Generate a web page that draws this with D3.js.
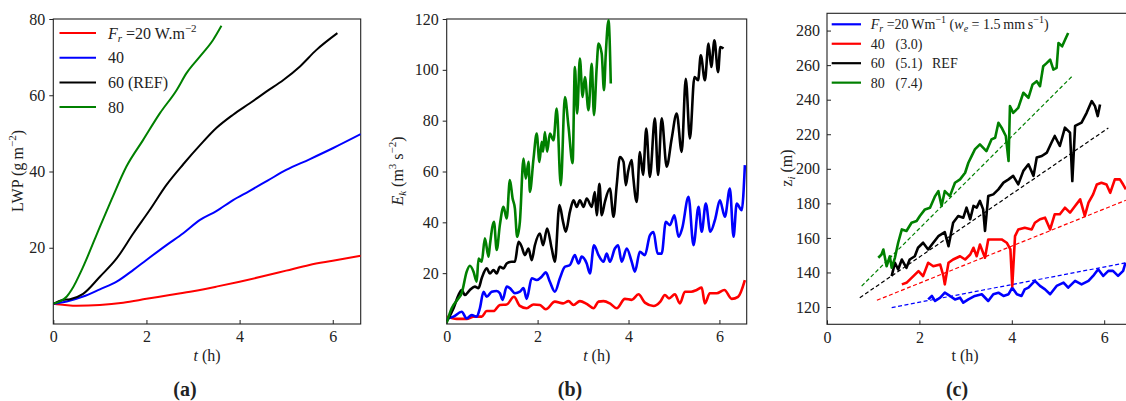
<!DOCTYPE html>
<html>
<head>
<meta charset="utf-8">
<script src="https://cdn.jsdelivr.net/npm/d3@7"></script>
<style>
  body { margin: 0; background: #fff; }
  svg text { font-family: "Liberation Serif", "DejaVu Serif", serif; fill: #222; }
</style>
</head>
<body>
<div id="chart"></div>
<script>
// ---- data ----
// (a) LWP (g m-2) vs t (h)
var lwp20 = [[0,5.3],[0.25,5.0],[0.5,4.8],[1,5.0],[1.5,5.6],[2,6.6],[2.5,7.6],[3,8.6],[3.5,9.8],[4,11.1],[4.5,12.5],[5,14.0],[5.5,15.5],[6,16.6],[6.6,17.9]];
var lwp40 = [[0,5.3],[0.29,5.9],[0.64,7.2],[1.0,9.1],[1.36,11.1],[1.72,14.2],[2.0,16.8],[2.43,20.7],[2.79,23.8],[3.15,27.3],[3.5,29.6],[3.86,32.5],[4.2,34.8],[4.6,37.6],[5,40.4],[5.5,43.2],[6,46.1],[6.6,49.8]];
var lwp60 = [[0,5.3],[0.2,6.3],[0.36,6.5],[0.64,7.9],[1.0,12.4],[1.36,17.2],[1.72,23.8],[2.07,29.9],[2.43,36.5],[2.79,41.9],[3.15,46.9],[3.5,51.4],[3.86,54.9],[4.22,57.9],[4.58,61],[4.94,64],[5.29,67.5],[5.65,71.9],[6.1,76.3]];
var lwp80 = [[0,5.3],[0.29,7.2],[0.39,8.9],[0.64,15],[1.0,25.5],[1.25,32.6],[1.57,41.3],[1.93,48.3],[2.29,55.3],[2.65,61.4],[2.86,65.8],[3.15,70.2],[3.43,74.5],[3.61,78.2]];

// (b) Ek (m3 s-2) vs t (h)
var ek20 = [[0,2.9],[0.22,2.0],[0.44,2.0],[0.59,2.9],[0.77,2.9],[0.88,5.1],[1.03,5.1],[1.17,7.5],[1.32,7.7],[1.48,10.7],[1.61,7.1],[1.76,6.2],[1.91,7.7],[2.05,7.5],[2.18,5.8],[2.38,8.8],[2.56,8.1],[2.68,9.0],[2.79,7.5],[2.93,9.0],[3.08,7.9],[3.23,6.2],[3.34,8.8],[3.45,9.0],[3.59,8.1],[3.74,6.2],[3.92,9.9],[4.07,9.5],[4.22,11.7],[4.36,8.4],[4.55,7.1],[4.7,8.8],[4.8,11.4],[4.89,10.1],[5.02,11.7],[5.13,8.1],[5.24,12.7],[5.38,12.7],[5.5,13.4],[5.61,14.3],[5.68,8.1],[5.79,12.1],[5.94,12.1],[6.11,13.4],[6.27,9.9],[6.41,10.7],[6.56,17.3]];
var ek40 = [[0,2],[0.15,2.9],[0.33,4.8],[0.44,2.2],[0.55,3.5],[0.66,2.9],[0.73,6.2],[0.81,12.7],[0.88,10.7],[0.99,12.7],[1.1,13.0],[1.17,12.1],[1.23,9.5],[1.32,14.7],[1.39,14.1],[1.5,12.1],[1.61,12.7],[1.69,14.1],[1.76,9.9],[1.87,18.0],[1.98,17.3],[2.09,18.6],[2.18,20.3],[2.27,16.6],[2.38,12.7],[2.49,18.0],[2.6,22.5],[2.71,23.2],[2.82,27.1],[2.9,23.8],[2.97,26.5],[3.08,23.8],[3.15,19.9],[3.24,31.0],[3.34,27.1],[3.45,24.5],[3.52,27.7],[3.59,24.5],[3.7,29.7],[3.77,31.0],[3.85,24.5],[3.96,29.7],[4.07,24.5],[4.14,20.6],[4.25,28.4],[4.36,27.1],[4.47,34.9],[4.55,36.2],[4.64,27.7],[4.73,27.7],[4.82,40.2],[4.91,38.9],[5.01,42.8],[5.1,34.3],[5.18,37.6],[5.32,50.0],[5.43,31.0],[5.54,46.1],[5.61,36.3],[5.7,47.4],[5.8,36.3],[5.91,41.5],[6.01,48.7],[6.12,42.2],[6.23,53.3],[6.31,34.3],[6.38,47.4],[6.49,44.8],[6.56,62.5]];
var ek60 = [[0,1],[0.15,6.2],[0.26,11.4],[0.33,13.4],[0.4,11.4],[0.51,13.4],[0.62,14.7],[0.7,14.1],[0.77,18.0],[0.88,21.9],[0.95,19.9],[1.03,21.2],[1.1,19.9],[1.17,22.5],[1.25,21.9],[1.32,23.8],[1.43,24.5],[1.5,24.5],[1.58,32.3],[1.65,30.4],[1.72,27.1],[1.8,29.7],[1.87,25.1],[1.94,31.0],[2.05,35.6],[2.12,31.0],[2.21,37.6],[2.31,29.7],[2.38,24.5],[2.48,46.8],[2.56,40.2],[2.62,36.3],[2.71,44.1],[2.79,48.7],[2.86,46.1],[2.93,48.7],[3.01,46.1],[3.08,49.4],[3.19,46.1],[3.26,51.9],[3.3,42.8],[3.36,55.2],[3.41,42.8],[3.48,48.0],[3.59,53.3],[3.67,42.2],[3.74,54.6],[3.81,65.7],[3.89,63.8],[3.94,54.6],[3.99,59.9],[4.07,64.5],[4.1,58.6],[4.18,48.0],[4.25,67.7],[4.32,58.6],[4.39,76.9],[4.47,57.9],[4.58,80.9],[4.65,58.6],[4.73,80.9],[4.84,61.9],[4.95,73.0],[5.06,82.8],[5.17,67.7],[5.26,96.5],[5.35,73.0],[5.45,97.2],[5.53,95.9],[5.59,105.7],[5.68,95.9],[5.76,110.3],[5.82,101.1],[5.89,111.6],[5.97,99.1],[6.02,109.0],[6.09,108.4]];
var ek80 = [[0,0.5],[0.11,6.2],[0.26,10.1],[0.33,12.1],[0.44,20.6],[0.51,22.9],[0.59,20.6],[0.66,16.6],[0.7,25.8],[0.77,24.5],[0.84,33.7],[0.92,26.5],[0.95,31.0],[1.04,40.2],[1.1,29.1],[1.17,39.0],[1.25,46.1],[1.32,41.5],[1.39,56.6],[1.45,49.4],[1.5,45.5],[1.55,34.3],[1.61,40.2],[1.69,65.1],[1.74,57.2],[1.8,63.8],[1.83,52.0],[1.91,65.1],[1.98,74.9],[2.04,63.8],[2.09,71.7],[2.12,67.8],[2.16,75.5],[2.21,67.8],[2.27,74.9],[2.35,72.3],[2.42,84.8],[2.51,54.6],[2.6,89.3],[2.68,77.6],[2.77,63.3],[2.82,101.1],[2.87,82.8],[2.93,104.4],[2.99,89.3],[3.04,97.2],[3.12,84.1],[3.19,102.4],[3.24,82.2],[3.3,101.1],[3.34,110.3],[3.41,106.4],[3.46,92.0],[3.5,106.4],[3.56,119.5],[3.61,94.6]];

// (c) zi (m) vs t (h)
var zi20 = [[2.19,124.4],[2.27,126.4],[2.34,123.5],[2.45,125.4],[2.55,128.3],[2.66,126.4],[2.77,124.4],[2.88,125.4],[2.95,122.5],[3.06,124.4],[3.2,126.4],[3.35,127.4],[3.49,123.5],[3.6,127.4],[3.71,128.3],[3.82,126.4],[3.93,127.4],[4.01,131.2],[4.11,127.4],[4.21,126.4],[4.28,130.2],[4.36,131.2],[4.5,135.1],[4.61,132.2],[4.72,130.2],[4.83,127.4],[4.97,132.2],[5.12,134.1],[5.22,131.2],[5.37,135.1],[5.51,133.1],[5.66,135.1],[5.76,138.0],[5.87,141.9],[5.98,138.0],[6.09,140.9],[6.19,140.9],[6.3,138.0],[6.41,140.9],[6.46,145.6]];
var zi40 = [[1.62,133.1],[1.72,134.0],[1.87,137.9],[1.98,140.8],[2.08,137.9],[2.19,145.6],[2.3,143.6],[2.45,144.6],[2.52,137.9],[2.55,133.1],[2.63,145.6],[2.73,147.5],[2.88,149.4],[2.99,147.5],[3.1,150.4],[3.17,154.3],[3.24,149.4],[3.31,156.2],[3.42,148.5],[3.49,159.1],[3.64,159.1],[3.78,159.1],[3.89,157.2],[3.97,153.3],[4.01,132.1],[4.07,161.0],[4.14,164.9],[4.28,165.9],[4.43,164.9],[4.5,168.8],[4.61,170.8],[4.72,171.7],[4.83,164.9],[4.93,173.7],[5.04,173.7],[5.15,177.5],[5.26,174.6],[5.37,178.5],[5.48,182.3],[5.58,172.7],[5.66,180.4],[5.76,185.2],[5.84,190.9],[5.94,191.9],[6.05,190.9],[6.13,186.1],[6.23,193.9],[6.34,193.9],[6.41,190.9],[6.47,188.1]];
var zi60 = [[1.4,137.9],[1.47,145.6],[1.54,141.7],[1.62,147.5],[1.72,142.7],[1.79,147.5],[1.9,149.4],[1.97,154.3],[2.08,157.2],[2.19,153.3],[2.3,157.2],[2.41,161.0],[2.55,163.3],[2.63,155.2],[2.73,168.8],[2.84,172.7],[2.95,171.7],[3.02,177.5],[3.1,170.8],[3.17,178.5],[3.24,177.5],[3.31,181.4],[3.38,176.5],[3.42,164.0],[3.49,184.2],[3.6,185.2],[3.71,188.1],[3.82,192.0],[3.93,193.9],[4.03,195.9],[4.14,191.0],[4.25,198.8],[4.36,202.6],[4.47,195.9],[4.54,206.5],[4.65,207.4],[4.76,209.4],[4.86,215.2],[4.93,219.0],[5.04,213.2],[5.15,223.8],[5.26,220.9],[5.31,192.9],[5.37,224.8],[5.51,226.7],[5.62,232.4],[5.73,239.2],[5.8,236.3],[5.86,230.5],[5.91,237.2]];
var zi80 = [[1.11,148.5],[1.18,150.4],[1.22,153.3],[1.29,143.6],[1.36,149.4],[1.4,142.7],[1.47,148.5],[1.54,157.2],[1.62,164.9],[1.72,164.0],[1.83,168.8],[1.94,169.8],[2.01,172.7],[2.12,176.5],[2.23,177.5],[2.34,184.2],[2.41,187.1],[2.48,178.5],[2.55,187.1],[2.66,184.2],[2.77,191.9],[2.88,193.9],[2.99,197.7],[3.06,203.5],[3.13,207.3],[3.2,211.2],[3.31,214.1],[3.45,210.2],[3.56,217.0],[3.64,218.0],[3.71,226.6],[3.78,223.8],[3.87,219.0],[3.93,204.5],[3.96,236.3],[4.03,232.4],[4.14,235.3],[4.25,244.0],[4.36,241.1],[4.45,248.8],[4.54,250.7],[4.61,247.8],[4.68,259.4],[4.76,261.3],[4.83,263.2],[4.9,257.4],[4.97,258.4],[5.01,272.8],[5.09,270.9],[5.17,275.7],[5.22,278.6]];
// dashed fits, [start, end]
var fit20 = [[1.4,119.7],[6.47,145.6]];
var fit40 = [[1.08,123.9],[6.47,181.8]];
var fit60 = [[0.71,125.4],[6.09,223.6]];
var fit80 = [[0.75,132.1],[5.3,253.4]];

var xTicks = [0, 2, 4, 6];
var lwpTicks = [20, 40, 60, 80];
var ekTicks = [20, 40, 60, 80, 100, 120];
var ziTicks = [120, 140, 160, 180, 200, 220, 240, 260, 280];

var RED = "#ff0000", BLUE = "#0000ff", BLACK = "#000000", GREEN = "#008000";

var svg = d3.select("#chart").append("svg")
    .attr("width", 1126)
    .attr("height", 401);

// draws one panel frame + axes, returns the scales
function makePanel(p) {
    var x = d3.scaleLinear().domain(p.xDomain).range([p.left, p.right]);
    var y = d3.scaleLinear().domain(p.yDomain).range([p.bottom, p.top]);

    var xAxis = d3.axisBottom(x).tickValues(xTicks).tickFormat(d3.format("d"))
        .tickSize(-4).tickSizeOuter(0).tickPadding(7);
    var yAxis = d3.axisLeft(y).tickValues(p.yTicks).tickFormat(d3.format("d"))
        .tickSize(p.yIn ? -4 : 4).tickSizeOuter(0).tickPadding(p.yIn ? 7 : 4);

    var gx = svg.append("g").attr("transform", "translate(0," + p.bottom + ")").call(xAxis);
    var gy = svg.append("g").attr("transform", "translate(" + p.left + ",0)").call(yAxis);
    [gx, gy].forEach(function (g) {
        g.select(".domain").remove();
        g.selectAll("line").attr("stroke", "#222");
        g.selectAll("text").style("font-family", "Liberation Serif").style("font-size", "16px").attr("fill", "#222");
    });

    svg.append("rect")
        .attr("x", p.left).attr("y", p.top)
        .attr("width", p.right - p.left).attr("height", p.bottom - p.top)
        .attr("fill", "none").attr("stroke", "#222").attr("stroke-width", 1.1);

    var clip = "clip" + p.name;
    svg.append("clipPath").attr("id", clip).append("rect")
        .attr("x", p.left).attr("y", p.top)
        .attr("width", p.right - p.left).attr("height", p.bottom - p.top);

    var g = svg.append("g").attr("clip-path", "url(#" + clip + ")");
    return {x: x, y: y, g: g};
}

function drawLine(panel, data, color, width, dash, curve) {
    var line = d3.line()
        .curve(curve || d3.curveLinear)
        .x(function (d) { return panel.x(d[0]); })
        .y(function (d) { return panel.y(d[1]); });
    var path = panel.g.append("path")
        .datum(data)
        .attr("d", line)
        .attr("fill", "none")
        .attr("stroke", color)
        .attr("stroke-width", width)
        .attr("stroke-linejoin", "round");
    if (dash) path.attr("stroke-dasharray", dash);
}

// ---------- (a) ----------
var pa = makePanel({name: "a", left: 53.3, right: 360.7, top: 19, bottom: 324,
    xDomain: [0, 6.6], yDomain: [0, 80], yTicks: lwpTicks});
drawLine(pa, lwp20, RED, 2, null, d3.curveMonotoneX);
drawLine(pa, lwp40, BLUE, 2, null, d3.curveMonotoneX);
drawLine(pa, lwp60, BLACK, 2, null, d3.curveMonotoneX);
drawLine(pa, lwp80, GREEN, 2, null, d3.curveMonotoneX);

var legA = [{c: RED}, {c: BLUE, t: "40"}, {c: BLACK, t: "60 (REF)"}, {c: GREEN, t: "80"}];
legA.forEach(function (d, i) {
    var yy = 33 + i * 24.7;
    svg.append("line").attr("x1", 59.5).attr("x2", 96).attr("y1", yy).attr("y2", yy)
        .attr("stroke", d.c).attr("stroke-width", 2);
    var t = svg.append("text").attr("x", 108).attr("y", yy + 5.5).style("font-size", "16px");
    if (i === 0) {
        t.append("tspan").style("font-style", "italic").text("F");
        t.append("tspan").style("font-style", "italic").style("font-size", "11px").attr("dy", 3).text("r");
        t.append("tspan").attr("dy", -3).text(" =20 W.m");
        t.append("tspan").style("font-size", "11px").attr("dy", -7).text("\u22122");
    } else {
        t.text(d.t);
    }
});

// ---------- (b) ----------
var pb = makePanel({name: "b", left: 446.7, right: 746.7, top: 19, bottom: 324,
    xDomain: [0, 6.6], yDomain: [0, 120], yTicks: ekTicks});
drawLine(pb, ek20, RED, 2.6, null, d3.curveMonotoneX);
drawLine(pb, ek40, BLUE, 2.6, null, d3.curveMonotoneX);
drawLine(pb, ek60, BLACK, 2.6, null, d3.curveMonotoneX);
drawLine(pb, ek80, GREEN, 2.6, null, d3.curveMonotoneX);

// ---------- (c) ----------
var pc = makePanel({name: "c", left: 827, right: 1127.3, top: 13.3, bottom: 324.3,
    xDomain: [0, 6.5], yDomain: [110, 290], yTicks: ziTicks, yIn: true});
drawLine(pc, fit20, BLUE, 1.2, "4,2.5");
drawLine(pc, fit40, RED, 1.2, "4,2.5");
drawLine(pc, fit60, BLACK, 1.2, "4,2.5");
drawLine(pc, fit80, GREEN, 1.2, "4,2.5");
drawLine(pc, zi20, BLUE, 2.6);
drawLine(pc, zi40, RED, 2.6);
drawLine(pc, zi60, BLACK, 2.6);
drawLine(pc, zi80, GREEN, 2.6);

var legC = [{c: BLUE}, {c: RED, a: "40", b: "(3.0)"}, {c: BLACK, a: "60", b: "(5.1)", r: "REF"}, {c: GREEN, a: "80", b: "(7.4)"}];
legC.forEach(function (d, i) {
    var yy = 24.3 + i * 19.45;
    svg.append("line").attr("x1", 831.7).attr("x2", 861).attr("y1", yy).attr("y2", yy)
        .attr("stroke", d.c).attr("stroke-width", 2.2);
    if (i === 0) {
        var t = svg.append("text").attr("x", 870.7).attr("y", yy + 5).style("font-size", "14px");
        t.append("tspan").style("font-style", "italic").text("F");
        t.append("tspan").style("font-style", "italic").style("font-size", "10px").attr("dy", 3).text("r");
        t.append("tspan").attr("dy", -3).text(" =20\u2009Wm");
        t.append("tspan").style("font-size", "10px").attr("dy", -6).text("\u22121");
        t.append("tspan").attr("dy", 6).text(" (");
        t.append("tspan").style("font-style", "italic").text("w");
        t.append("tspan").style("font-style", "italic").style("font-size", "10px").attr("dy", 3).text("e");
        t.append("tspan").attr("dy", -3).text(" = 1.5\u2009mm\u2009s");
        t.append("tspan").style("font-size", "10px").attr("dy", -6).text("\u22121");
        t.append("tspan").attr("dy", 6).text(")");
    } else {
        svg.append("text").attr("x", 870.7).attr("y", yy + 5).style("font-size", "14px").text(d.a);
        svg.append("text").attr("x", 895.5).attr("y", yy + 5).style("font-size", "14px").text(d.b);
        if (d.r) svg.append("text").attr("x", 932).attr("y", yy + 5).style("font-size", "14px").text(d.r);
    }
});

// ---------- axis titles and panel letters ----------
function xTitle(cx, italic) {
    var t = svg.append("text").attr("x", cx).attr("y", 361).attr("text-anchor", "middle").style("font-size", "16px");
    t.append("tspan").style("font-style", italic ? "italic" : "normal").text("t");
    t.append("tspan").text(" (h)");
}
xTitle(207, true);
xTitle(596.7, true);
xTitle(965, false);

var ya = svg.append("text").attr("transform", "translate(23,171) rotate(-90)")
    .attr("text-anchor", "middle").style("font-size", "16px");
ya.append("tspan").text("LWP (g\u2009m");
ya.append("tspan").style("font-size", "11px").attr("dy", -7).text("\u22122");
ya.append("tspan").attr("dy", 7).text(")");

var yb = svg.append("text").attr("transform", "translate(403,171) rotate(-90)")
    .attr("text-anchor", "middle").style("font-size", "16px");
yb.append("tspan").style("font-style", "italic").text("E");
yb.append("tspan").style("font-style", "italic").style("font-size", "11px").attr("dy", 3).text("k");
yb.append("tspan").attr("dy", -3).text(" (m");
yb.append("tspan").style("font-size", "11px").attr("dy", -7).text("3");
yb.append("tspan").attr("dy", 7).text(" s");
yb.append("tspan").style("font-size", "11px").attr("dy", -7).text("\u22122");
yb.append("tspan").attr("dy", 7).text(")");

var yc = svg.append("text").attr("transform", "translate(792,168) rotate(-90)")
    .attr("text-anchor", "middle").style("font-size", "16px");
yc.append("tspan").text("z");
yc.append("tspan").style("font-style", "italic").style("font-size", "11px").attr("dy", 3).text("i");
yc.append("tspan").attr("dy", -3).text(" (m)");

[["(a)", 185], ["(b)", 570], ["(c)", 957]].forEach(function (d) {
    svg.append("text").attr("x", d[1]).attr("y", 396).attr("text-anchor", "middle")
        .style("font-size", "20px").style("font-weight", "bold").text(d[0]);
});
</script>
</body>
</html>
